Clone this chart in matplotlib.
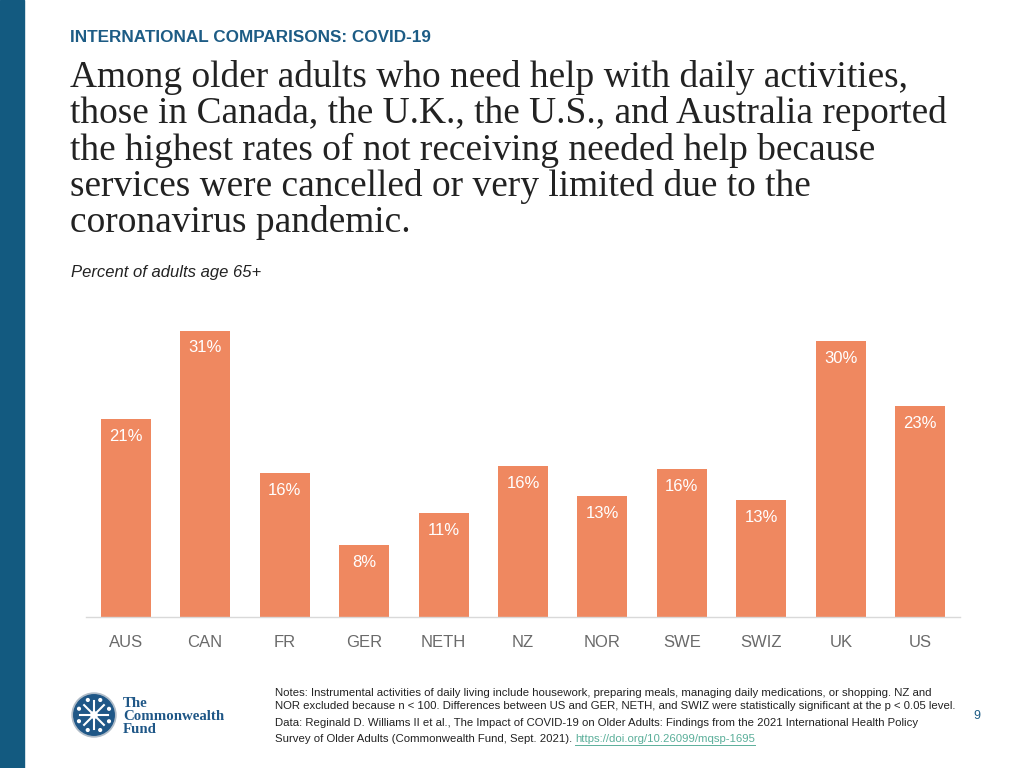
import numpy as np
import matplotlib
matplotlib.use("Agg")
import matplotlib.pyplot as plt
from matplotlib.patches import Rectangle, Circle

countries = ["AUS", "CAN", "FR", "GER", "NETH", "NZ", "NOR", "SWE", "SWIZ", "UK", "US"]
values = [21.3, 30.8, 15.5, 7.7, 11.2, 16.2, 13.0, 15.9, 12.6, 29.7, 22.7]

bar_color = "#EF8860"
blue = "#1D5C85"
W, H = 1024, 768

fig = plt.figure(figsize=(10.24, 7.68), dpi=100)
fig.patch.set_facecolor("white")

# left stripe
fig.patches.append(Rectangle((0, 0), 24 / W, 1, transform=fig.transFigure,
                             color="#135A80", zorder=0))

fig.text(70 / W, 1 - 38 / H, "INTERNATIONAL COMPARISONS: COVID-19",
         fontsize=12.3, fontweight="bold", color=blue, va="center",
         family="Liberation Sans")

title_lines = ["Among older adults who need help with daily activities,",
               "those in Canada, the U.K., the U.S., and Australia reported",
               "the highest rates of not receiving needed help because",
               "services were cancelled or very limited due to the",
               "coronavirus pandemic."]
for i, line in enumerate(title_lines):
    fig.text(70 / W, 1 - (87 + 36.3 * i) / H, line, fontsize=26.9, color="#222222",
             va="baseline", ha="left", family="Liberation Serif")

fig.text(71 / W, 1 - 273 / H, "Percent of adults age 65+", fontsize=12,
         style="italic", color="#222222", va="center", family="Liberation Sans")

# chart
ax = fig.add_axes([86 / W, (H - 617) / H, 874 / W, 297.6 / H])
x = np.arange(len(countries))
ax.bar(x, values, width=0.63, color=bar_color, zorder=2)
for xi, v in zip(x, values):
    ax.annotate(f"{round(v)}%", (xi, v), xytext=(0, -12.5), textcoords="offset points",
                ha="center", va="center", color="white", fontsize=12,
                family="Liberation Sans")
ax.set_xlim(-0.5, len(countries) - 0.5)
ax.set_ylim(0, 32)
ax.set_xticks(x)
ax.set_xticklabels(countries, fontsize=12, color="#6A6A6A", family="Liberation Sans")
ax.tick_params(axis="x", length=0, pad=13)
ax.set_yticks([])
for s in ["top", "right", "left"]:
    ax.spines[s].set_visible(False)
ax.spines["bottom"].set_color("#D9D9D9")
ax.spines["bottom"].set_linewidth(1)

# notes
notes_font = dict(fontsize=8.2, color="#222222", family="Liberation Sans", va="center")
fig.text(275 / W, 1 - 693 / H,
         "Notes: Instrumental activities of daily living include housework, preparing meals, "
         "managing daily medications, or shopping. NZ and", **notes_font)
fig.text(275 / W, 1 - 706 / H,
         "NOR excluded because n < 100. Differences between US and GER, NETH, and SWIZ "
         "were statistically significant at the p < 0.05 level.", **notes_font)
fig.text(275 / W, 1 - 723 / H,
         "Data: Reginald D. Williams II et al., The Impact of COVID-19 on Older Adults: "
         "Findings from the 2021 International Health Policy", **notes_font)
t = fig.text(275 / W, 1 - 739 / H,
             "Survey of Older Adults (Commonwealth Fund, Sept. 2021). ", **notes_font)
fig.canvas.draw()
renderer = fig.canvas.get_renderer()
bb = t.get_window_extent(renderer)
link = fig.text(bb.x1 / W, 1 - 739 / H, "https://doi.org/10.26099/mqsp-1695",
                fontsize=8.2, color="#5BAF9A", family="Liberation Sans", va="center")
lbb = link.get_window_extent(renderer)
fig.lines.append(plt.Line2D([lbb.x0 / W, lbb.x1 / W], [1 - 745 / H, 1 - 745 / H],
                            transform=fig.transFigure, color="#5BAF9A", lw=0.7))

fig.text(977 / W, 1 - 716 / H, "9", fontsize=9, color=blue, ha="center",
         va="center", family="Liberation Sans")

# logo
lax = fig.add_axes([69 / W, (H - 740) / H, 50 / W, 50 / H])
lax.set_xlim(-1, 1)
lax.set_ylim(-1, 1)
lax.set_aspect("equal")
lax.axis("off")
lax.add_patch(Circle((0, 0), 0.88, color="#B0BCC8"))
lax.add_patch(Circle((0, 0), 0.81, color="#1F5787"))
for a in np.arange(0, 360, 45):
    r = np.deg2rad(a)
    lax.plot([0, 0.56 * np.cos(r)], [0, 0.56 * np.sin(r)], color="white", lw=1.5)
    lax.add_patch(Circle((0.65 * np.cos(r + 0.39), 0.65 * np.sin(r + 0.39)), 0.055,
                         color="white"))
lax.add_patch(Circle((0, 0), 0.13, color="white"))

for txt, yb in zip(["The", "Commonwealth", "Fund"], [707, 720, 733]):
    fig.text(123 / W, 1 - yb / H, txt, fontsize=10.7, fontweight="bold",
             color="#1F5787", family="Liberation Serif", va="baseline", ha="left")

fig.savefig("out.png", dpi=100, facecolor="white")
